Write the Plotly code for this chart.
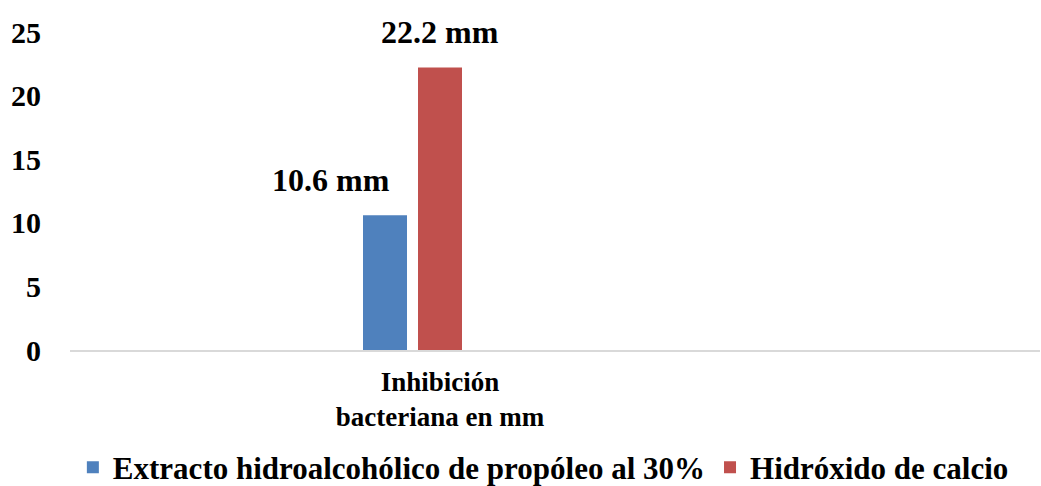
import plotly.graph_objects as go

categories = ["Inhibición<br>bacteriana en mm"]
series_names = ["Extracto hidroalcohólico de propóleo al 30%", "Hidróxido de calcio"]
series_values = [[10.6], [22.2]]
label_texts = ["10.6 mm", "22.2 mm"]
colors = ["#4F81BD", "#C0504D"]
y_ticks = [0, 5, 10, 15, 20, 25]

FONT = "Liberation Serif"

bar_width = 0.22
offsets = [-0.385, -0.11]
label_dx = [-0.27, 0.0]

fig = go.Figure()
for i, name in enumerate(series_names):
    fig.add_trace(go.Bar(
        x=[0], y=series_values[i], name=name,
        marker=dict(color=colors[i], line=dict(width=0)),
        width=bar_width, offset=offsets[i],
    ))
    fig.add_annotation(
        x=offsets[i] + bar_width / 2 + label_dx[i], y=series_values[i][0] + 2.8,
        xref="x", yref="y", text=label_texts[i], showarrow=False,
        font=dict(family=FONT, size=32, color="black", weight="bold"),
        xanchor="center", yanchor="middle",
    )

fig.update_layout(
    width=1041, height=486,
    margin=dict(l=70, r=1, t=32, b=136, autoexpand=False),
    paper_bgcolor="white", plot_bgcolor="white",
    font=dict(family=FONT, color="black", weight="bold"),
    showlegend=True,
    legend=dict(orientation="h", x=0.488, xanchor="center", y=-0.37, yanchor="middle",
                font=dict(family=FONT, size=31, color="black", weight="bold"),
                itemwidth=30, tracegroupgap=0),
    xaxis=dict(range=[-1.85, 3.0], tickmode="array", tickvals=[0],
               ticktext=categories, automargin=False,
               tickfont=dict(family=FONT, size=27, color="black", weight="bold"),
               showline=True, linecolor="#d9d9d9", linewidth=1.5,
               showgrid=False, zeroline=False, ticks="", ticklabelstandoff=7),
    yaxis=dict(range=[0, 25], tickmode="array", tickvals=y_ticks,
               ticktext=[str(t) for t in y_ticks], automargin=False,
               tickfont=dict(family=FONT, size=30, color="black", weight="bold"),
               showgrid=False, zeroline=False, showline=False, ticks="",
               ticklabelstandoff=28),
)

fig.write_html("out.html", config={"displayModeBar": False},
               post_script="document.body.style.margin='0';")
